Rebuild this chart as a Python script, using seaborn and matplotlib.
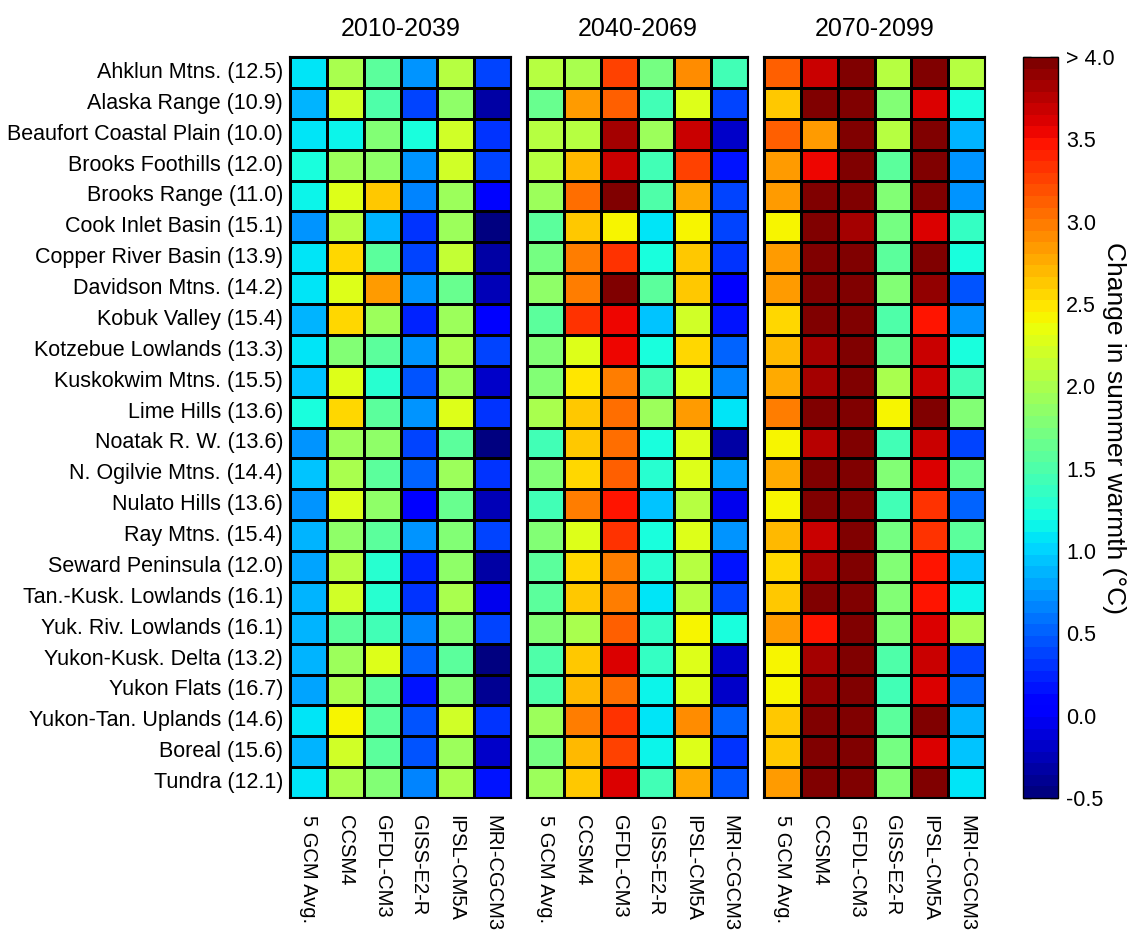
import numpy as np
import pandas as pd
import matplotlib
matplotlib.use("Agg")
import matplotlib.pyplot as plt
import seaborn as sns

sns.set_theme(style="white")
plt.rcParams["font.family"] = ["Liberation Sans", "DejaVu Sans"]
plt.rcParams["text.color"] = "black"
plt.rcParams["xtick.color"] = "black"
plt.rcParams["ytick.color"] = "black"
plt.rcParams["axes.labelcolor"] = "black"

regions = [
    "Ahklun Mtns. (12.5)", "Alaska Range (10.9)", "Beaufort Coastal Plain (10.0)",
    "Brooks Foothills (12.0)", "Brooks Range (11.0)", "Cook Inlet Basin (15.1)",
    "Copper River Basin (13.9)", "Davidson Mtns. (14.2)", "Kobuk Valley (15.4)",
    "Kotzebue Lowlands (13.3)", "Kuskokwim Mtns. (15.5)", "Lime Hills (13.6)",
    "Noatak R. W. (13.6)", "N. Ogilvie Mtns. (14.4)", "Nulato Hills (13.6)",
    "Ray Mtns. (15.4)", "Seward Peninsula (12.0)", "Tan.-Kusk. Lowlands (16.1)",
    "Yuk. Riv. Lowlands (16.1)", "Yukon-Kusk. Delta (13.2)", "Yukon Flats (16.7)",
    "Yukon-Tan. Uplands (14.6)", "Boreal (15.6)", "Tundra (12.1)",
]
models = ["5 GCM Avg.", "CCSM4", "GFDL-CM3", "GISS-E2-R", "IPSL-CM5A", "MRI-CGCM3"]
periods = ["2010-2039", "2040-2069", "2070-2099"]

# change in summer warmth (deg C); columns follow `models`
warm_2010_2039 = [
    [1.05, 2.00, 1.55, 0.70, 2.05, 0.40],
    [0.85, 2.20, 1.50, 0.35, 1.85, -0.30],
    [1.10, 1.15, 1.75, 1.20, 2.20, 0.30],
    [1.20, 1.95, 1.85, 0.70, 2.20, 0.35],
    [1.15, 2.30, 2.65, 0.65, 1.90, 0.10],
    [0.70, 2.05, 0.90, 0.30, 1.90, -0.45],
    [1.05, 2.55, 1.60, 0.40, 2.15, -0.30],
    [1.10, 2.30, 2.85, 0.75, 1.65, -0.25],
    [0.90, 2.55, 1.90, 0.25, 1.90, 0.00],
    [1.05, 1.80, 1.60, 0.70, 2.00, 0.35],
    [0.95, 2.25, 1.30, 0.45, 1.90, -0.20],
    [1.20, 2.55, 1.55, 0.70, 2.30, 0.30],
    [0.70, 1.90, 1.85, 0.40, 1.55, -0.45],
    [0.95, 2.00, 1.55, 0.55, 1.95, 0.30],
    [0.75, 2.30, 1.85, 0.05, 1.65, -0.25],
    [0.90, 1.85, 1.55, 0.70, 1.75, 0.40],
    [0.80, 2.05, 1.30, 0.25, 1.85, -0.35],
    [0.90, 2.20, 1.30, 0.30, 2.00, -0.05],
    [0.90, 1.55, 1.45, 0.65, 1.80, 0.40],
    [0.85, 1.90, 2.25, 0.55, 1.55, -0.45],
    [0.80, 2.00, 1.60, 0.20, 1.80, -0.40],
    [1.05, 2.45, 1.55, 0.45, 2.20, 0.30],
    [0.90, 2.20, 1.60, 0.45, 1.95, -0.15],
    [1.05, 2.00, 1.75, 0.65, 2.00, 0.15],
]
warm_2040_2069 = [
    [2.05, 2.00, 3.25, 1.70, 2.90, 1.45],
    [1.65, 2.85, 3.10, 1.45, 2.25, 0.40],
    [2.05, 2.05, 3.80, 1.90, 3.65, -0.20],
    [2.05, 2.70, 3.70, 1.45, 3.25, 0.15],
    [1.90, 3.05, 4.00, 1.50, 2.75, 0.35],
    [1.55, 2.65, 2.45, 1.10, 2.40, 0.40],
    [1.70, 3.00, 3.30, 1.25, 2.60, 0.30],
    [1.85, 3.00, 4.00, 1.60, 2.60, 0.05],
    [1.55, 3.30, 3.55, 0.95, 2.20, 0.15],
    [1.80, 2.30, 3.55, 1.20, 2.55, 0.50],
    [1.75, 2.50, 3.00, 1.40, 2.25, 0.65],
    [2.00, 2.65, 3.05, 1.95, 2.85, 1.05],
    [1.45, 2.65, 3.05, 1.20, 2.25, -0.35],
    [1.75, 2.55, 3.10, 1.30, 2.25, 0.80],
    [1.45, 2.95, 3.45, 0.95, 2.05, -0.05],
    [1.80, 2.30, 3.30, 1.20, 2.25, 0.75],
    [1.55, 2.55, 2.95, 1.30, 2.10, 0.15],
    [1.60, 2.65, 3.00, 1.10, 2.10, 0.40],
    [1.80, 2.00, 3.10, 1.35, 2.45, 1.20],
    [1.50, 2.65, 3.60, 1.35, 2.30, -0.15],
    [1.50, 2.70, 3.05, 1.15, 2.25, -0.15],
    [1.90, 2.95, 3.35, 1.05, 2.90, 0.50],
    [1.70, 2.70, 3.25, 1.15, 2.25, 0.30],
    [1.90, 2.60, 3.60, 1.45, 2.75, 0.45],
]
warm_2070_2099 = [
    [3.10, 3.65, 4.20, 2.10, 3.95, 2.10],
    [2.65, 4.10, 4.10, 1.80, 3.60, 1.20],
    [3.10, 2.85, 4.10, 2.05, 4.00, 0.85],
    [2.85, 3.55, 4.10, 1.60, 4.00, 0.75],
    [2.85, 4.10, 4.10, 1.75, 4.05, 0.75],
    [2.45, 4.10, 3.85, 1.70, 3.60, 1.35],
    [2.85, 4.10, 4.10, 1.60, 4.00, 1.25],
    [2.85, 4.10, 4.10, 1.75, 3.90, 0.45],
    [2.55, 4.10, 4.10, 1.50, 3.45, 0.70],
    [2.70, 3.80, 4.10, 1.65, 3.65, 1.20],
    [2.75, 3.85, 4.10, 2.00, 3.65, 1.45],
    [3.00, 4.10, 4.10, 2.45, 4.05, 1.80],
    [2.40, 3.75, 4.10, 1.45, 3.65, 0.35],
    [2.75, 4.05, 4.10, 1.80, 3.60, 1.65],
    [2.40, 4.05, 4.10, 1.45, 3.35, 0.50],
    [2.70, 3.70, 4.10, 1.70, 3.30, 1.60],
    [2.55, 3.80, 4.10, 1.75, 3.50, 0.95],
    [2.60, 4.05, 4.10, 1.75, 3.50, 1.15],
    [2.85, 3.50, 4.10, 1.75, 3.60, 2.00],
    [2.45, 3.85, 4.10, 1.50, 3.70, 0.35],
    [2.45, 3.90, 4.10, 1.45, 3.60, 0.55],
    [2.60, 4.05, 4.10, 1.55, 4.05, 0.85],
    [2.60, 4.05, 4.10, 1.70, 3.60, 0.95],
    [2.85, 4.05, 4.10, 1.75, 4.05, 1.10],
]
period_data = [warm_2010_2039, warm_2040_2069, warm_2070_2099]

cbar_ticks = [-0.5, 0.0, 0.5, 1.0, 1.5, 2.0, 2.5, 3.0, 3.5, 4.0]
cbar_ticklabels = ["-0.5", "0.0", "0.5", "1.0", "1.5", "2.0", "2.5", "3.0", "3.5", "> 4.0"]

W, H = 1143, 936
fig = plt.figure(figsize=(W / 100, H / 100), dpi=100)
top_px, bot_px = 57, 798
panel_left_px = [290, 527, 764]
panel_w_px = 221
cmap = plt.get_cmap("jet", 64)

cax = fig.add_axes([1023 / W, 1 - bot_px / H, 35 / W, (bot_px - top_px) / H])

for i, (data, title) in enumerate(zip(period_data, periods)):
    ax = fig.add_axes([panel_left_px[i] / W, 1 - bot_px / H, panel_w_px / W, (bot_px - top_px) / H])
    df = pd.DataFrame(data, index=regions, columns=models)
    sns.heatmap(
        df, ax=ax, cmap=cmap, vmin=-0.5, vmax=4.0,
        linewidths=0.9, linecolor="black",
        cbar=(i == 0), cbar_ax=cax if i == 0 else None,
        yticklabels=(i == 0), xticklabels=True,
    )
    ax.set_title(title, fontsize=18, pad=15, color="black")
    ax.set_xlabel("")
    ax.set_ylabel("")
    ax.set_xticklabels(models, rotation=270, fontsize=14.5, ha="center", va="top")
    if i == 0:
        ax.set_yticklabels(regions, rotation=0, fontsize=15.5)
    ax.tick_params(axis="y", length=0, pad=5)
    ax.tick_params(axis="x", length=0, pad=12)
    for sp in ax.spines.values():
        sp.set_visible(True)
        sp.set_color("black")
        sp.set_linewidth(1.5)

cbar = fig.axes[1].collections[0].colorbar
cbar.set_ticks(cbar_ticks)
cbar.set_ticklabels(cbar_ticklabels)
cbar.outline.set_edgecolor("black")
cbar.outline.set_linewidth(1.0)
cax.tick_params(direction="in", length=6, width=1, left=True, right=True,
                labelsize=15.5, colors="black", pad=6)
cax.yaxis.set_ticks_position("both")
cax.yaxis.set_label_position("right")
for lbl in cax.get_yticklabels():
    lbl.set_horizontalalignment("left")
    lbl.set_color("black")
cbar.set_label("Change in summer warmth (°C)", rotation=270, fontsize=19,
               labelpad=8, color="black")

fig.savefig("out.png", dpi=100, facecolor="white")
